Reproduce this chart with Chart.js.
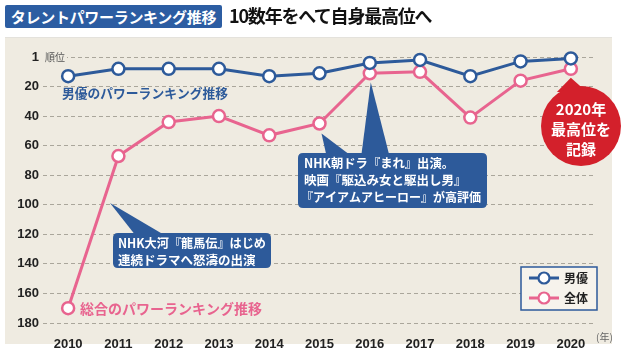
<!DOCTYPE html>
<html><head><meta charset="utf-8">
<script src="https://cdn.jsdelivr.net/npm/chart.js@4/dist/chart.umd.min.js"></script>
<style>
html,body{margin:0;padding:0;background:#fff;}
#wrap{position:relative;width:630px;height:355px;overflow:hidden;}
canvas{position:absolute;left:0;top:0;}
#tag{position:absolute;left:5px;top:5px;width:217px;height:23px;background:#2c5da2;color:#fff;font:bold 15px "Noto Sans CJK JP";line-height:23px;text-align:center;border-radius:2px;letter-spacing:-0.3px;}
#ttl{position:absolute;left:229px;top:2px;font:bold 18px "Noto Sans CJK JP";color:#111;line-height:26px;letter-spacing:-1.2px;}
</style></head>
<body><div id="wrap"><canvas id="c" width="630" height="355"></canvas><div id="tag">タレントパワーランキング推移</div><div id="ttl">10数年をへて自身最高位へ</div></div>
<script>
const years = ['2010','2011','2012','2013','2014','2015','2016','2017','2018','2019','2020'];
const actorRank = [13, 8, 8, 8, 13, 11, 4, 2, 13, 3, 1];
const overallRank = [170, 67, 44, 40, 53, 45, 11, 10, 41, 16, 8];
const seriesNames = ['男優', '全体'];
const yTickValues = [0, 20, 40, 60, 80, 100, 120, 140, 160, 180];
const yTickLabels = ['1', '20', '40', '60', '80', '100', '120', '140', '160', '180'];

const BLUE = '#2d5a9a', PINK = '#e8648f', RED = '#d3202b', BEIGE = '#efebe1';
const JP = '"Noto Sans CJK JP"';

function rr(ctx, x, y, w, h, r) {
  ctx.beginPath();
  ctx.moveTo(x + r, y);
  ctx.lineTo(x + w - r, y); ctx.quadraticCurveTo(x + w, y, x + w, y + r);
  ctx.lineTo(x + w, y + h - r); ctx.quadraticCurveTo(x + w, y + h, x + w - r, y + h);
  ctx.lineTo(x + r, y + h); ctx.quadraticCurveTo(x, y + h, x, y + h - r);
  ctx.lineTo(x, y + r); ctx.quadraticCurveTo(x, y, x + r, y);
  ctx.closePath();
}
function tri(ctx, a, b, c) {
  ctx.beginPath(); ctx.moveTo(a[0], a[1]); ctx.lineTo(b[0], b[1]); ctx.lineTo(c[0], c[1]); ctx.closePath(); ctx.fill();
}
function fitText(ctx, s, x, y, maxW) {
  const w = ctx.measureText(s).width;
  if (w > maxW) {
    ctx.save(); ctx.translate(x, y); ctx.scale(maxW / w, 1); ctx.fillText(s, 0, 0); ctx.restore();
  } else ctx.fillText(s, x, y);
}

const bgPlugin = {
  id: 'bg',
  beforeDraw(chart) {
    const ctx = chart.ctx;
    ctx.save();
    ctx.fillStyle = '#e4e2dc';
    ctx.fillRect(5, 37, 607, 1);
    ctx.fillStyle = BEIGE;
    ctx.fillRect(5, 38, 607, 306);
    ctx.restore();
  },
  afterDraw(chart) {
    const ctx = chart.ctx;
    const y = chart.scales.y;
    ctx.save();
    const ty = y.getPixelForValue(0);
    ctx.fillStyle = BEIGE;
    ctx.fillRect(43, ty - 7, 24, 14);
    ctx.fillStyle = '#555';
    ctx.font = '10px ' + JP;
    ctx.textBaseline = 'middle';
    ctx.fillText('順位', 45, ty);
    ctx.font = '10px ' + JP;
    ctx.fillStyle = '#666';
    ctx.fillText('(年)', 596, 337);
    ctx.restore();
  }
};

const annoPlugin = {
  id: 'anno',
  afterDatasetsDraw(chart) {
    const ctx = chart.ctx;
    const xs = chart.scales.x, ys = chart.scales.y;
    const px = i => xs.getPixelForValue(i);
    const py = v => ys.getPixelForValue(v);
    ctx.save();
    ctx.textBaseline = 'middle';
    ctx.font = 'bold 13px ' + JP;
    ctx.fillStyle = BLUE;
    fitText(ctx, '男優のパワーランキング推移', 62, 93, 166);
    ctx.font = 'bold 14px ' + JP;
    ctx.fillStyle = PINK;
    fitText(ctx, '総合のパワーランキング推移', 80, 309, 182);

    // callout 1
    ctx.fillStyle = BLUE;
    tri(ctx, [110, 203], [136, 236], [166, 236]);
    rr(ctx, 113, 233, 158, 35, 5); ctx.fill();
    ctx.fillStyle = '#fff';
    ctx.font = 'bold 12.5px ' + JP;
    fitText(ctx, 'NHK大河『龍馬伝』はじめ', 118, 243, 148);
    fitText(ctx, '連続ドラマへ怒濤の出演', 118, 260, 148);

    // callout 2
    ctx.fillStyle = BLUE;
    const t1x = px(5) + 2, t1y = py(overallRank[5]) + 10;
    tri(ctx, [t1x, t1y], [327, 158], [354, 158]);
    const t2x = px(6) + 1, t2y = py(overallRank[6]) + 9;
    tri(ctx, [t2x, t2y], [361, 158], [390, 158]);
    rr(ctx, 298, 153, 189, 55, 5); ctx.fill();
    ctx.fillStyle = '#fff';
    ctx.font = 'bold 12.5px ' + JP;
    fitText(ctx, 'NHK朝ドラ『まれ』出演。', 304, 163, 150);
    fitText(ctx, '映画『駆込み女と駆出し男』', 304, 180, 170);
    fitText(ctx, '『アイアムアヒーロー』が高評価', 301, 197, 180);

    // red circle
    const rx = px(10), ryTop = py(overallRank[10]) + 9;
    ctx.fillStyle = RED;
    tri(ctx, [rx, ryTop], [rx - 14, 92], [rx + 16, 92]);
    ctx.beginPath(); ctx.arc(581, 126, 40, 0, Math.PI * 2); ctx.fill();
    ctx.fillStyle = '#fff';
    ctx.textAlign = 'center';
    ctx.font = 'bold 15px ' + JP;
    ctx.fillText('2020年', 581, 109);
    ctx.fillText('最高位を', 581, 129);
    ctx.fillText('記録', 581, 149);
    ctx.textAlign = 'left';

    // legend
    ctx.fillStyle = '#f6f3ec';
    ctx.fillRect(521, 267, 76, 43);
    ctx.strokeStyle = BLUE; ctx.lineWidth = 1.5;
    ctx.strokeRect(521, 267, 76, 43);
    chart.data.datasets.forEach((ds, i) => {
      const ly = 278 + i * 20;
      ctx.strokeStyle = ds.borderColor; ctx.lineWidth = 3;
      ctx.beginPath(); ctx.moveTo(529, ly); ctx.lineTo(559, ly); ctx.stroke();
      ctx.fillStyle = '#fff'; ctx.lineWidth = 2.2;
      ctx.beginPath(); ctx.arc(544, ly, 5.5, 0, Math.PI * 2); ctx.fill(); ctx.stroke();
      ctx.fillStyle = '#222';
      ctx.font = 'bold 12px ' + JP;
      ctx.fillText(ds.label, 564, ly);
    });
    ctx.restore();
  }
};

new Chart(document.getElementById('c'), {
  type: 'line',
  data: {
    labels: years,
    datasets: [
      { label: seriesNames[0], data: actorRank, borderColor: BLUE, backgroundColor: '#fff',
        borderWidth: 3, pointRadius: 6, pointBorderWidth: 2.5, pointBackgroundColor: '#fff', pointBorderColor: BLUE, clip: false, tension: 0 },
      { label: seriesNames[1], data: overallRank, borderColor: PINK, backgroundColor: '#fff',
        borderWidth: 3, pointRadius: 6, pointBorderWidth: 2.5, pointBackgroundColor: '#fff', pointBorderColor: PINK, clip: false, tension: 0 }
    ]
  },
  options: {
    responsive: false,
    animation: false,
    events: [],
    layout: { padding: { top: 57, right: 34, left: 0, bottom: 0 } },
    plugins: { legend: { display: false }, tooltip: { enabled: false } },
    scales: {
      x: {
        offset: true,
        grid: { display: false },
        border: { display: false },
        ticks: { color: '#222', font: { family: 'Liberation Sans', size: 13, weight: 'bold' }, padding: 6, maxRotation: 0 },
        afterFit(s) { s.height = 32; }
      },
      y: {
        reverse: true, min: 0, max: 180,
        afterBuildTicks(s) { s.ticks = yTickValues.map(v => ({ value: v })); },
        grid: { color: '#aaa69b', lineWidth: 1, drawTicks: false },
        border: { display: false, dash: [4, 3] },
        ticks: {
          color: '#222', padding: 4,
          font: { family: 'Liberation Sans', size: 13, weight: 'bold' },
          callback(v) { const i = yTickValues.indexOf(v); return i >= 0 ? yTickLabels[i] : ''; }
        },
        afterFit(s) { s.width = 43; }
      }
    }
  },
  plugins: [bgPlugin, annoPlugin]
});
</script>
</body></html>
